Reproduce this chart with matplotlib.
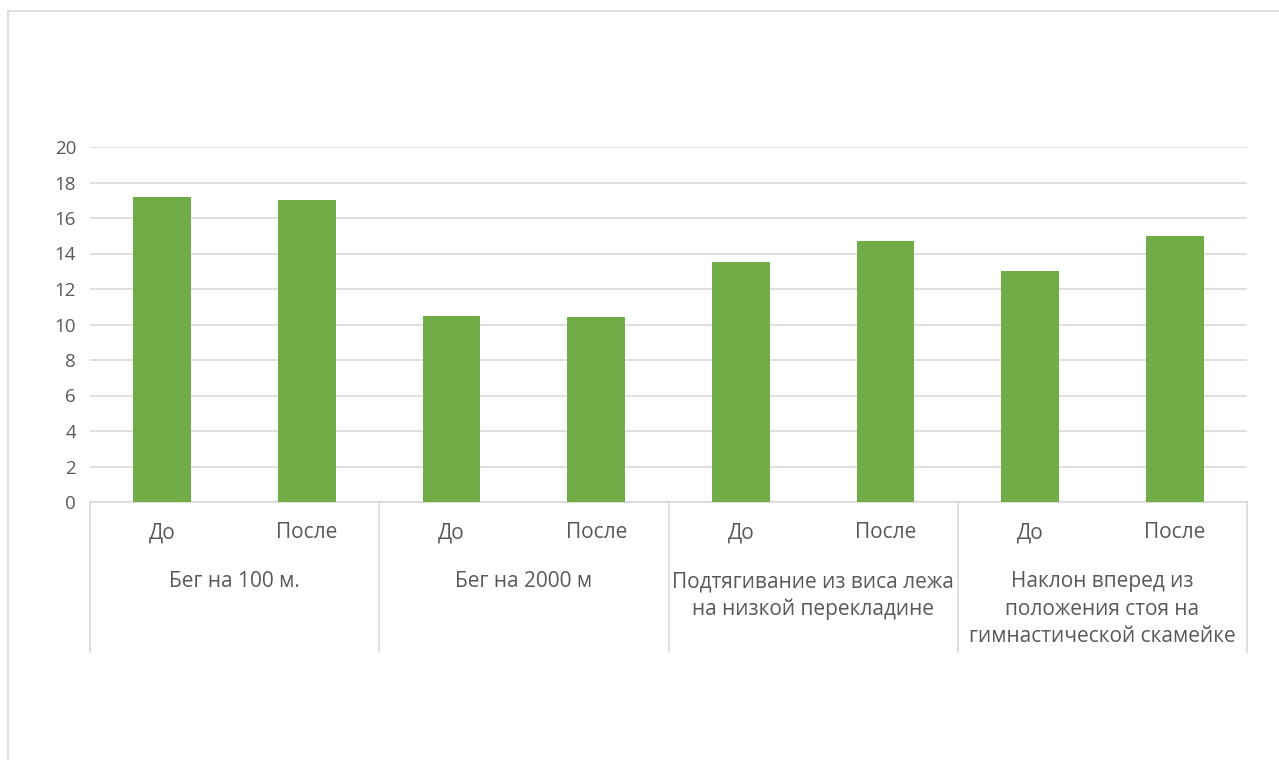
import matplotlib
matplotlib.use("Agg")
import matplotlib.pyplot as plt
from matplotlib.lines import Line2D
import matplotlib.transforms as mtransforms

plt.rcParams['font.family'] = ['Open Sans', 'DejaVu Sans']

groups = ["Бег на 100 м.", "Бег на 2000 м",
          "Подтягивание из виса лежа\nна низкой перекладине",
          "Наклон вперед из\nположения стоя на\nгимнастической скамейке"]
subcats = ["До", "После"]
values = [17.2, 17.0, 10.5, 10.45, 13.5, 14.7, 13.0, 15.0]
yticks = [0, 2, 4, 6, 8, 10, 12, 14, 16, 18, 20]

W, H = 1279, 760
fig = plt.figure(figsize=(W / 100, H / 100), dpi=100)
fig.patch.set_facecolor("white")

# outer chart border
fig.add_artist(Line2D([8 / W, 1], [1 - 11 / H, 1 - 11 / H], color="#D9D9D9", lw=1.2))
fig.add_artist(Line2D([8 / W, 8 / W], [0, 1 - 11 / H], color="#D9D9D9", lw=1.2))

x0, x1, ytop, ybot = 90, 1247, 147, 502
ax = fig.add_axes([x0 / W, 1 - ybot / H, (x1 - x0) / W, (ybot - ytop) / H])

xs = list(range(len(values)))
ax.bar(xs, values, width=0.4, color="#70AD47", zorder=3)
ax.set_xlim(-0.5, len(values) - 0.5)
ax.set_ylim(0, 20)
ax.set_yticks(yticks)
ax.yaxis.grid(True, color="#D9D9D9", lw=1.2, zorder=0)
ax.tick_params(axis="y", length=0, pad=10, labelsize=13.5, labelcolor="#595959")
for s in ["top", "right", "left"]:
    ax.spines[s].set_visible(False)
ax.spines["bottom"].set_color("#D9D9D9")
ax.spines["bottom"].set_linewidth(1.2)
ax.set_xticks([])

axh = ybot - ytop
trans = mtransforms.blended_transform_factory(ax.transData, ax.transAxes)
sep_bottom = -(652 - ybot) / axh
for k in range(len(groups) + 1):
    xv = -0.5 + 2 * k
    ax.add_line(Line2D([xv, xv], [0, sep_bottom], transform=trans, color="#D9D9D9",
                       lw=1.2, clip_on=False))

sub_y = -(533 - ybot) / axh
for i, x in enumerate(xs):
    ax.text(x, sub_y, subcats[i % 2], transform=trans, ha="center", va="center",
            fontsize=15, color="#595959")

grp_y = -(581 - ybot) / axh
for g, label in enumerate(groups):
    ax.text(2 * g + 0.5, grp_y + 0.5 * 20 / axh, label, transform=trans, ha="center", va="top",
            fontsize=15, color="#595959", linespacing=1.42)

fig.savefig("out.png", dpi=100)
